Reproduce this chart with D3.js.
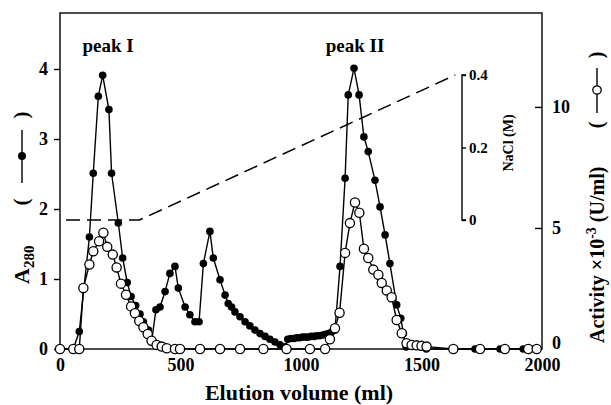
<!DOCTYPE html>
<html>
<head>
<meta charset="utf-8">
<script src="https://cdn.jsdelivr.net/npm/d3@7"></script>
<style>
  body { margin: 0; background: #fff; }
  svg text { font-family: "Liberation Serif", "DejaVu Serif", serif; font-weight: bold; fill: #000; }
</style>
</head>
<body>
<div id="chart"></div>
<script>
// A280 (filled circles)
var volA = [0, 55, 80, 122, 138, 159, 177, 203, 214, 242, 260, 279, 295, 314, 332, 346, 367, 380,
  398, 415, 436, 456, 477, 491, 519, 539, 560, 577, 595, 622, 636, 664, 685, 698,
  712, 726, 747, 768, 788, 809, 830, 851, 871, 892, 913, 934,
  945, 958, 970, 982, 994, 1006, 1018, 1030, 1042, 1054, 1066, 1078, 1090, 1102, 1114, 1126,
  1141, 1162, 1183, 1196, 1220, 1241, 1261, 1279, 1307, 1328, 1349, 1369, 1397, 1414, 1425, 1436,
  1520, 1632, 1722, 1826, 1922, 1968];
var a280 = [0, 0, 0.25, 1.60, 2.51, 3.61, 3.91, 3.42, 2.51, 1.80, 1.30, 0.95, 0.75, 0.62, 0.50, 0.39, 0.27, 0.10,
  0.56, 0.60, 0.82, 1.08, 1.18, 0.87, 0.60, 0.49, 0.39, 0.39, 1.22, 1.68, 1.30, 0.99, 0.77, 0.65,
  0.60, 0.53, 0.46, 0.39, 0.33, 0.27, 0.22, 0.18, 0.14, 0.10, 0.06, 0.03,
  0.14, 0.15, 0.15, 0.16, 0.16, 0.17, 0.17, 0.17, 0.18, 0.18, 0.19, 0.19, 0.20, 0.21, 0.22, 0.24,
  0.27, 1.18, 2.44, 3.63, 4.01, 3.63, 3.03, 2.82, 2.41, 2.03, 1.63, 1.22, 0.63, 0.44, 0.22, 0.03,
  0, 0, 0, 0, 0, 0];

// Activity x10^-3 U/ml (open circles)
var volAct = [0, 55, 80, 97, 122, 138, 162, 180, 196, 219, 235, 253, 274, 295, 311, 329, 346, 364, 380,
  401, 422, 443, 477, 498, 581, 664, 747, 844, 940, 1037, 1100, 1120, 1141, 1160,
  1183, 1203, 1224, 1242, 1261, 1279, 1300, 1321, 1335, 1356, 1376, 1397, 1418, 1438,
  1459, 1480, 1500, 1521, 1632, 1743, 1846, 1943, 1978];
var activity = [0, 0, 0, 2.52, 3.49, 4.04, 4.45, 4.80, 4.22, 3.90, 3.37, 2.70, 2.24, 1.76, 1.48, 1.16, 0.90, 0.62, 0.34,
  0.17, 0.10, 0.03, 0, 0, 0, 0, 0, 0, 0, 0, 0, 0.40, 0.86, 1.50,
  3.97, 5.20, 6.05, 5.63, 4.14, 3.76, 3.28, 3.07, 2.73, 2.42, 2.14, 1.20, 0.65, 0.24,
  0.17, 0.15, 0.13, 0.10, 0, 0, 0, 0, 0];

// NaCl gradient (dashed)
var volNaCl = [25, 330, 1640];
var nacl = [0, 0, 0.4];

var xTicks = [0, 500, 1000, 1500, 2000];
var aTicks = [0, 1, 2, 3, 4];
var actTicks = [0, 5, 10];
var naclTicks = [0, 0.2, 0.4];

var W = 611, H = 405;
var svg = d3.select("#chart").append("svg")
  .attr("width", W).attr("height", H);

var x = d3.scaleLinear().domain([0, 2000]).range([60, 542]);
var yA = d3.scaleLinear().domain([0, 4.8]).range([349, 13]);
var yAct = d3.scaleLinear().domain([0, 13.88]).range([349, 13]);
var yN = d3.scaleLinear().domain([0, 0.4]).range([220, 75]);

// frame
svg.append("rect")
  .attr("x", 60).attr("y", 13).attr("width", 482).attr("height", 336)
  .attr("fill", "none").attr("stroke", "#000").attr("stroke-width", 1.4);

// left axis
var gl = svg.append("g").attr("transform", "translate(60,0)")
  .call(d3.axisLeft(yA).tickValues(aTicks).tickSize(6).tickPadding(6).tickFormat(d3.format("d")));
// right axis, ticks inward
var gr = svg.append("g").attr("transform", "translate(542,0)")
  .call(d3.axisRight(yAct).tickValues(actTicks).tickSize(-7).tickPadding(10).tickFormat(d3.format("d")));
// bottom axis
var gb = svg.append("g").attr("transform", "translate(0,349)")
  .call(d3.axisBottom(x).tickValues(xTicks).tickSize(0).tickPadding(9).tickFormat(d3.format("d")));
// NaCl bracket axis
var gn = svg.append("g").attr("transform", "translate(462,0)")
  .call(d3.axisRight(yN).tickValues(naclTicks).tickSize(4).tickPadding(3)
    .tickFormat(function(d) { return d === 0 ? "0" : d3.format(".1f")(d); }));

[gl, gr, gb, gn].forEach(function(g) {
  g.select(".domain").attr("stroke-width", 1.4);
  g.selectAll(".tick line").attr("stroke-width", 1.4);
  g.selectAll("text").attr("font-family", null).attr("font-size", 18);
});
gn.selectAll("text").attr("font-size", 15);
gn.select(".domain").attr("d", "M4," + yN(0.4) + "H0V" + yN(0) + "H4");
gl.select(".domain").remove();
gr.select(".domain").remove();
gb.select(".domain").remove();
// right "0" sits a little above the baseline
gr.selectAll(".tick text").filter(function(d) { return d === 0; }).attr("y", -6);

// NaCl dashed line
var lineN = d3.line().x(function(d, i) { return x(volNaCl[i]); }).y(function(d) { return yN(d); });
svg.append("path").datum(nacl)
  .attr("d", lineN)
  .attr("fill", "none").attr("stroke", "#000").attr("stroke-width", 1.5)
  .attr("stroke-dasharray", "14,7");

// A280 line + filled dots
var lineA = d3.line().x(function(d, i) { return x(volA[i]); }).y(function(d) { return yA(d); });
svg.append("path").datum(a280)
  .attr("d", lineA).attr("fill", "none").attr("stroke", "#000").attr("stroke-width", 1.4);
svg.append("g").selectAll("circle").data(a280).enter().append("circle")
  .attr("cx", function(d, i) { return x(volA[i]); })
  .attr("cy", function(d) { return yA(d); })
  .attr("r", 3.8).attr("fill", "#000");

// activity line + open dots
var lineAct = d3.line().x(function(d, i) { return x(volAct[i]); }).y(function(d) { return yAct(d); });
svg.append("path").datum(activity)
  .attr("d", lineAct).attr("fill", "none").attr("stroke", "#000").attr("stroke-width", 1.4);
svg.append("g").selectAll("circle").data(activity).enter().append("circle")
  .attr("cx", function(d, i) { return x(volAct[i]); })
  .attr("cy", function(d) { return yAct(d); })
  .attr("r", 4.6).attr("fill", "#fff").attr("stroke", "#000").attr("stroke-width", 1.3);

// peak labels
svg.append("text").attr("x", 108).attr("y", 52).attr("text-anchor", "middle")
  .attr("font-size", 19).text("peak I");
svg.append("text").attr("x", 355).attr("y", 52).attr("text-anchor", "middle")
  .attr("font-size", 19).text("peak II");

// x title
svg.append("text").attr("x", 299).attr("y", 400).attr("text-anchor", "middle")
  .attr("font-size", 22).text("Elution volume (ml)");

// left title with symbol
var lt = svg.append("g").attr("transform", "translate(29,0) rotate(-90)");
var at = lt.append("text").attr("x", -284).attr("y", 0).attr("font-size", 22);
at.append("tspan").text("A");
at.append("tspan").attr("font-size", 15).attr("dy", 5).text("280");
lt.append("text").attr("x", -202).attr("y", -1).attr("text-anchor", "middle").attr("font-size", 21).text("(");
lt.append("line").attr("x1", -183).attr("x2", -130).attr("y1", -7).attr("y2", -7)
  .attr("stroke", "#000").attr("stroke-width", 1.4);
lt.append("circle").attr("cx", -156).attr("cy", -7).attr("r", 4).attr("fill", "#000");
lt.append("text").attr("x", -115).attr("y", -1).attr("text-anchor", "middle").attr("font-size", 21).text(")");

// right title with symbol
var rt = svg.append("g").attr("transform", "translate(604,0) rotate(-90)");
var t2 = rt.append("text").attr("x", -343).attr("y", 0).attr("font-size", 20);
t2.append("tspan").text("Activity ×10");
t2.append("tspan").attr("font-size", 14).attr("dy", -8).text("-3");
t2.append("tspan").attr("dy", 8).text(" (U/ml)");
rt.append("text").attr("x", -125).attr("y", -1).attr("text-anchor", "middle").attr("font-size", 20).text("(");
rt.append("line").attr("x1", -113).attr("x2", -68).attr("y1", -7).attr("y2", -7)
  .attr("stroke", "#000").attr("stroke-width", 1.4);
rt.append("circle").attr("cx", -90).attr("cy", -7).attr("r", 4.2).attr("fill", "#fff")
  .attr("stroke", "#000").attr("stroke-width", 1.3);
rt.append("text").attr("x", -55).attr("y", -1).attr("text-anchor", "middle").attr("font-size", 20).text(")");

// NaCl title
svg.append("text").attr("transform", "translate(513,143) rotate(-90)")
  .attr("text-anchor", "middle").attr("font-size", 14).text("NaCl   (M)");
</script>
</body>
</html>
